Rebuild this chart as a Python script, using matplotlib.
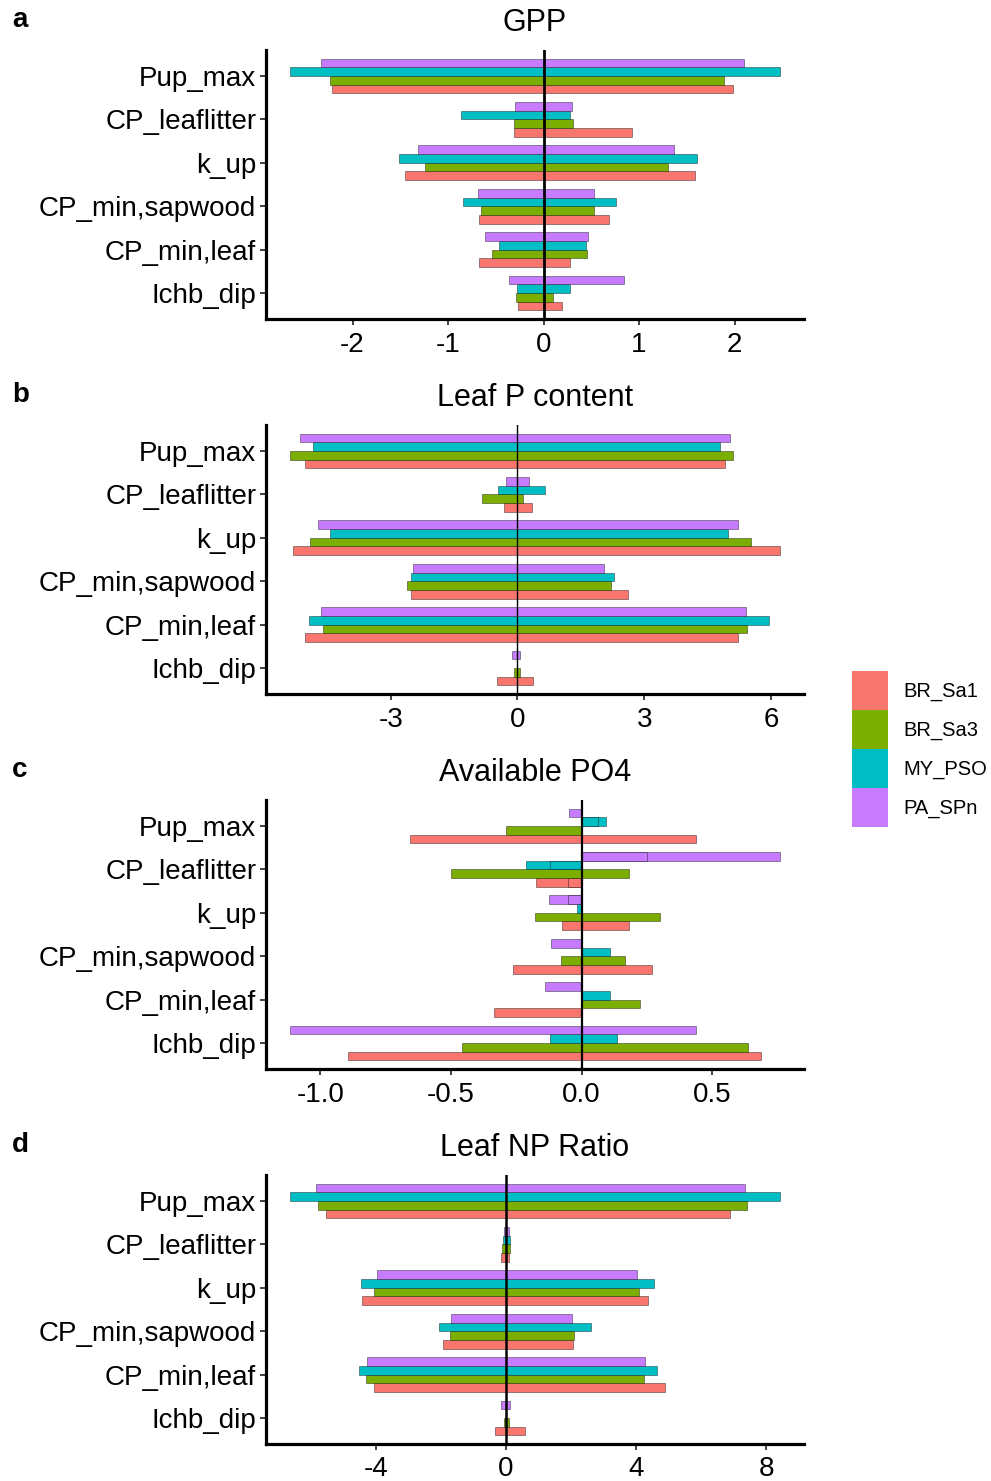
import numpy as np
import matplotlib
matplotlib.use("Agg")
import matplotlib.pyplot as plt
from matplotlib.patches import Patch

plt.rcParams['font.family'] = ['Liberation Sans', 'DejaVu Sans']

# parameters, listed top to bottom as they appear on the y axis
params = ["Pup_max", "CP_leaflitter", "k_up", "CP_min,sapwood", "CP_min,leaf", "Ichb_dip"]
sites = ["BR_Sa1", "BR_Sa3", "MY_PSO", "PA_SPn"]
site_colors = ["#F8766D", "#7CAE00", "#00BFC4", "#C77CFF"]

# two perturbation runs per site, values [site][param]
gpp_a = [[-2.21, -0.31, -1.45, -0.68, -0.68, -0.27],
         [-2.24, -0.31, -1.24, -0.66, -0.54, -0.29],
         [-2.65, -0.86, -1.51, -0.84, -0.47, -0.28],
         [-2.33, -0.30, -1.32, -0.69, -0.61, -0.36]]
gpp_b = [[1.98, 0.93, 1.58, 0.68, 0.28, 0.19],
         [1.89, 0.31, 1.30, 0.53, 0.45, 0.10],
         [2.47, 0.28, 1.61, 0.76, 0.44, 0.28],
         [2.10, 0.30, 1.37, 0.53, 0.47, 0.84]]

leafp_a = [[-5.02, -0.31, -5.31, -2.51, -5.02, -0.48],
           [-5.37, -0.83, -4.91, -2.62, -4.60, -0.09],
           [-4.83, -0.45, -4.44, -2.53, -4.93, 0.0],
           [-5.14, -0.28, -4.73, -2.47, -4.64, -0.12]]
leafp_b = [[4.92, 0.34, 6.20, 2.62, 5.22, 0.37],
           [5.11, 0.12, 5.52, 2.22, 5.43, 0.05],
           [4.80, 0.65, 4.97, 2.28, 5.95, 0.0],
           [5.02, 0.27, 5.21, 2.04, 5.41, 0.06]]

po4_a = [[-0.657, -0.052, -0.076, -0.264, -0.336, -0.893],
         [-0.289, -0.498, -0.178, -0.079, 0.0, -0.456],
         [0.064, -0.122, -0.019, 0.0, 0.0, -0.119],
         [-0.046, 0.250, -0.050, -0.118, -0.139, -1.114]]
po4_b = [[0.440, -0.174, 0.182, 0.270, 0.0, 0.687],
         [0.0, 0.182, 0.301, 0.165, 0.225, 0.637],
         [0.095, -0.213, 0.0, 0.108, 0.108, 0.135],
         [0.0, 0.758, -0.126, 0.0, 0.0, 0.439]]

np_a = [[-5.52, -0.14, -4.42, -1.92, -4.05, -0.34],
        [-5.78, -0.11, -4.06, -1.72, -4.29, -0.05],
        [-6.62, -0.09, -4.46, -2.05, -4.52, 0.0],
        [-5.82, -0.05, -3.96, -1.69, -4.26, -0.14]]
np_b = [[6.90, 0.10, 4.38, 2.05, 4.89, 0.58],
        [7.41, 0.13, 4.08, 2.09, 4.24, 0.10],
        [8.41, 0.13, 4.54, 2.62, 4.63, 0.0],
        [7.34, 0.10, 4.02, 2.03, 4.26, 0.13]]

panels = [
    ("a", "GPP", gpp_a, gpp_b, [-2, -1, 0, 1, 2], 2.0),
    ("b", "Leaf P content", leafp_a, leafp_b, [-3, 0, 3, 6], 1.0),
    ("c", "Available PO4", po4_a, po4_b, [-1.0, -0.5, 0.0, 0.5], 1.6),
    ("d", "Leaf NP Ratio", np_a, np_b, [-4, 0, 4, 8], 1.8),
]

W, H = 991, 1481
fig = plt.figure(figsize=(W / 100, H / 100), dpi=100)

ax_left, ax_right = 266, 804
tops = [50, 425, 800, 1175]
ax_h = 269

ypos = np.arange(len(params))[::-1]  # Pup_max on top
bar_h = 0.2
offsets = [-0.3, -0.1, 0.1, 0.3]

for (letter, title, va, vb, ticks, zlw), top in zip(panels, tops):
    ax = fig.add_axes([ax_left / W, 1 - (top + ax_h) / H,
                       (ax_right - ax_left) / W, ax_h / H])
    va = np.array(va)
    vb = np.array(vb)
    for i, (site, col) in enumerate(zip(sites, site_colors)):
        a, b = va[i], vb[i]
        # longer bar first so a shorter one on the same side stays visible
        first = np.where(np.abs(a) >= np.abs(b), a, b)
        second = np.where(np.abs(a) >= np.abs(b), b, a)
        for vals in (first, second):
            ax.barh(ypos + offsets[i], vals, height=bar_h, color=col,
                    edgecolor=(0, 0, 0, 0.55), linewidth=0.5)
    ax.axvline(0, color="black", lw=zlw, zorder=5)

    lo = min(va.min(), vb.min())
    hi = max(va.max(), vb.max())
    pad = 0.05 * (hi - lo)
    ax.set_xlim(lo - pad, hi + pad)
    ax.set_ylim(-0.6, len(params) - 0.4)
    ax.set_yticks(ypos)
    ax.set_yticklabels(params)
    ax.set_xticks(ticks)
    ax.set_xticklabels([f"{t:.1f}" if letter == "c" else f"{t:g}" for t in ticks])

    for s in ("top", "right"):
        ax.spines[s].set_visible(False)
    for s in ("left", "bottom"):
        ax.spines[s].set_linewidth(2.3)
    ax.tick_params(axis="both", labelsize=20, length=4, width=1.3,
                   color="#333333", labelcolor="black", pad=3)
    ax.tick_params(axis="x", pad=5)
    ax.set_title(title, fontsize=22, pad=14)
    fig.text(12 / W, 1 - (top - 30) / H, letter, fontsize=20, fontweight="bold",
             va="center", ha="left")

handles = [Patch(facecolor=c, edgecolor="none") for c in site_colors]
fig.legend(handles, sites, loc="upper left", bbox_to_anchor=(852 / W, 1 - 671 / H),
           frameon=False, fontsize=14.5, handlelength=1.8, handleheight=2.6,
           labelspacing=0.0, handletextpad=0.75, borderpad=0, borderaxespad=0)

fig.savefig("out.png", dpi=100)
